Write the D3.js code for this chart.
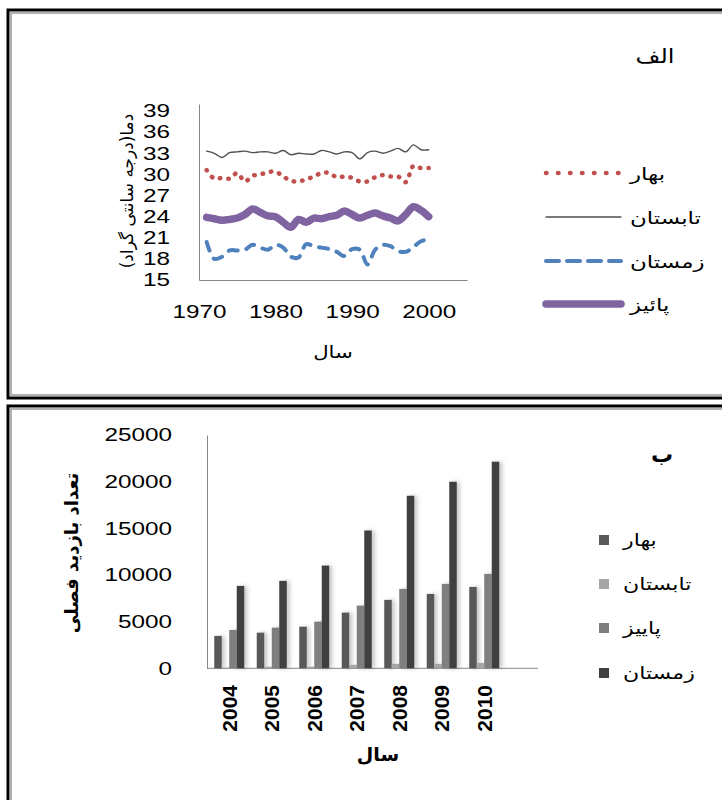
<!DOCTYPE html>
<html>
<head>
<meta charset="utf-8">
<script src="https://cdnjs.cloudflare.com/ajax/libs/d3/7.8.5/d3.min.js"></script>
<style>
    body { margin: 0; background: #fff; }
    svg text { fill: #000; }
    .num { font-family: "Liberation Sans", Arial, sans-serif; }
    .fa { font-family: "DejaVu Sans", sans-serif; }
</style>
</head>
<body>
<div id="chart"></div>
<script>

// ---- panel (الف): seasonal temperature ----
const climateYears = [1971, 1972, 1973, 1974, 1975, 1976, 1977, 1978, 1979, 1980,
    1981, 1982, 1983, 1984, 1985, 1986, 1987, 1988, 1989, 1990,
    1991, 1992, 1993, 1994, 1995, 1996, 1997, 1998, 1999, 2000];
const springTemp = [30.6, 29.4, 29.5, 29.4, 30.2, 29.0, 29.8, 30.0, 30.3, 30.4,
    29.7, 29.1, 29.0, 29.3, 29.7, 30.2, 30.2, 29.6, 29.7, 29.5,
    29.0, 29.0, 29.6, 29.9, 29.7, 29.7, 28.9, 31.2, 30.9, 30.9];
const summerTemp = [33.3, 33.0, 32.4, 33.1, 33.2, 33.3, 33.1, 33.2, 33.2, 33.0,
    33.4, 32.8, 33.0, 32.9, 32.9, 33.4, 33.2, 32.9, 33.2, 33.1,
    32.2, 33.1, 33.3, 33.0, 33.3, 33.7, 33.2, 34.2, 33.5, 33.5];
const winterTemp = [20.4, 18.0, 18.3, 19.2, 19.2, 19.3, 20.0, 19.6, 19.3, 20.0,
    19.6, 18.3, 18.2, 20.1, 19.8, 19.6, 19.4, 19.0, 18.4, 19.4,
    19.3, 17.2, 19.3, 20.0, 19.8, 19.1, 19.0, 19.7, 20.5, 20.8];
const autumnTemp = [23.9, 23.7, 23.5, 23.6, 23.8, 24.3, 25.1, 24.6, 24.1, 24.0,
    23.2, 22.5, 23.6, 23.2, 23.8, 23.7, 24.0, 24.2, 24.8, 24.3,
    23.8, 24.2, 24.5, 24.1, 23.8, 23.4, 24.3, 25.4, 24.9, 24.0];
const tempSeasons = ["بهار", "تابستان", "زمستان", "پائیز"];
const tempTicks = [15, 18, 21, 24, 27, 30, 33, 36, 39];
const decadeTicks = [1970, 1980, 1990, 2000];

// ---- panel (ب): seasonal visits ----
const visitYears = ["2004", "2005", "2006", "2007", "2008", "2009", "2010"];
const visitSeasons = ["بهار", "تابستان", "پاییز", "زمستان"];
const springVisits = [3470, 3820, 4460, 5970, 7330, 7970, 8720];
const summerVisits = [60, 170, 170, 350, 460, 460, 570];
const autumnVisits = [4110, 4360, 5000, 6720, 8510, 9050, 10120];
const winterVisits = [8830, 9370, 11010, 14770, 18490, 19990, 22140];
const visitTicks = [0, 5000, 10000, 15000, 20000, 25000];


// horizontal text in the source is drawn wide, so stretch it along x
function stretchText(sel, k) {
    sel.each(function() {
        let t = d3.select(this);
        let x = +t.attr("x") || 0;
        t.attr("x", x / k)
            .attr("transform", (t.attr("transform") || "") + " scale(" + k + ",1)");
    });
}

const svg = d3.select("#chart").append("svg")
    .attr("width", 722)
    .attr("height", 800);

// frames round both panels
function frame(y, h) {
    svg.append("rect").attr("x", 8).attr("y", y).attr("width", 730).attr("height", h)
        .attr("fill", "none").attr("stroke", "#000").attr("stroke-width", 3);
    svg.append("rect").attr("x", 11).attr("y", y + 3).attr("width", 730).attr("height", h - 6)
        .attr("fill", "none").attr("stroke", "#999").attr("stroke-width", 1.5);
}
frame(10, 388);
frame(406, 420);


class TempLineVis {

    constructor(svg) {
        this.svg = svg;
        this.initVis();
    }

    initVis() {
        let vis = this;

        vis.x = d3.scaleLinear().domain([1970, 2005]).range([199, 467]);
        vis.y = d3.scaleLinear().domain([15, 40]).range([280, 104]);

        vis.yAxis = d3.axisLeft(vis.y).tickValues(tempTicks).tickSize(0).tickSizeOuter(0).tickPadding(29);
        vis.xAxis = d3.axisBottom(vis.x).tickValues(decadeTicks).tickFormat(d3.format("d"))
            .tickSize(0).tickSizeOuter(0).tickPadding(25);

        let gy = vis.svg.append("g").attr("transform", "translate(199,0)").call(vis.yAxis);
        let gx = vis.svg.append("g").attr("transform", "translate(0,280)").call(vis.xAxis);

        [gx, gy].forEach(g => {
            g.select(".domain").attr("stroke", "#868686");
            g.selectAll("text").attr("class", "num").attr("font-size", 18).attr("font-family", null);
            stretchText(g.selectAll("text"), 1.35);
        });

        vis.svg.append("text").attr("class", "fa")
            .attr("transform", "translate(133,191)rotate(-90)")
            .attr("text-anchor", "middle")
            .attr("direction", "rtl")
            .attr("font-size", 17)
            .text("دما(درجه سانتی گراد)");

        let t1 = vis.svg.append("text").attr("class", "fa")
            .attr("x", 333).attr("y", 358)
            .attr("text-anchor", "middle")
            .attr("font-size", 17)
            .text("سال");
        stretchText(t1, 1.25);

        let t2 = vis.svg.append("text").attr("class", "fa")
            .attr("x", 655).attr("y", 63)
            .attr("text-anchor", "middle")
            .attr("font-size", 20)
            .text("الف");
        stretchText(t2, 1.2);

        vis.wrangleData();
    }

    wrangleData() {
        let vis = this;
        let cols = [springTemp, summerTemp, winterTemp, autumnTemp];
        let styles = [
            { color: "#C0504D", width: 4.5, dash: "0.5,8", legendDash: "0.5,11.5" },
            { color: "#505050", width: 1.4, dash: null, legendDash: null },
            { color: "#4F81BD", width: 4, dash: "9,9", legendDash: "13,8" },
            { color: "#8064A2", width: 7.5, dash: null, legendDash: null }
        ];
        vis.displayData = tempSeasons.map((name, i) => ({
            name: name,
            style: styles[i],
            values: climateYears.map((yr, j) => ({ year: yr, value: cols[i][j] }))
        }));
        vis.updateVis();
    }

    updateVis() {
        let vis = this;

        let line = d3.line()
            .x(d => vis.x(d.year))
            .y(d => vis.y(d.value))
            .curve(d3.curveCatmullRom.alpha(0.5));

        // draw autumn/winter first so summer + spring sit on top
        vis.svg.selectAll(".season-line")
            .data(vis.displayData.slice().reverse())
            .enter()
            .append("path")
            .attr("class", "season-line")
            .attr("d", d => line(d.values))
            .attr("fill", "none")
            .attr("stroke", d => d.style.color)
            .attr("stroke-width", d => d.style.width)
            .attr("stroke-dasharray", d => d.style.dash)
            .attr("stroke-linecap", "round")
            .attr("stroke-linejoin", "round");

        let legendY = [173, 217, 261, 304];
        let leg = vis.svg.selectAll(".legend")
            .data(vis.displayData)
            .enter()
            .append("g")
            .attr("class", "legend")
            .attr("transform", (d, i) => "translate(0," + legendY[i] + ")");

        leg.append("line")
            .attr("x1", 546).attr("x2", 621)
            .attr("stroke", d => d.style.color)
            .attr("stroke-width", d => d.style.width)
            .attr("stroke-dasharray", d => d.style.legendDash)
            .attr("stroke-linecap", "round");

        let lt = leg.append("text").attr("class", "fa")
            .attr("x", 630).attr("y", 7)
            .attr("font-size", 17)
            .text(d => d.name);
        stretchText(lt, 1.35);
    }
}


class VisitBarVis {

    constructor(svg) {
        this.svg = svg;
        this.initVis();
    }

    initVis() {
        let vis = this;

        vis.x = d3.scaleBand().domain(visitYears).range([208, 505.5])
            .paddingInner(12.5 / 42.5).paddingOuter(6.25 / 42.5);
        vis.xSub = d3.scaleBand().domain(visitSeasons).range([0, vis.x.bandwidth()]);
        vis.y = d3.scaleLinear().domain([0, 25000]).range([668.3, 435]);

        let defs = vis.svg.append("defs");
        let f = defs.append("filter").attr("id", "barShadow")
            .attr("x", "-50%").attr("y", "-5%").attr("width", "250%").attr("height", "110%");
        f.append("feDropShadow").attr("dx", 3).attr("dy", 0).attr("stdDeviation", 2)
            .attr("flood-color", "#000").attr("flood-opacity", 0.22);

        vis.yAxis = d3.axisLeft(vis.y).tickValues(visitTicks).tickFormat(d3.format("d"))
            .tickSize(0).tickSizeOuter(0).tickPadding(35);
        let gy = vis.svg.append("g").attr("transform", "translate(207,0)").call(vis.yAxis);
        gy.select(".domain").attr("stroke", "#868686");
        gy.selectAll("text").attr("class", "num").attr("font-size", 18).attr("font-family", null);
        stretchText(gy.selectAll("text"), 1.35);

        vis.svg.append("line")
            .attr("x1", 207).attr("x2", 538)
            .attr("y1", vis.y(0)).attr("y2", vis.y(0))
            .attr("stroke", "#868686");

        vis.svg.selectAll(".year-label")
            .data(visitYears)
            .enter()
            .append("text")
            .attr("class", "year-label num")
            .attr("transform", d => "translate(" + (vis.x(d) + vis.x.bandwidth() / 2) + ",685)rotate(-90)")
            .attr("text-anchor", "end")
            .attr("dy", "0.36em")
            .attr("font-size", 21)
            .attr("font-weight", "bold")
            .text(d => d);

        vis.svg.append("text").attr("class", "fa")
            .attr("transform", "translate(78,553)rotate(-90)")
            .attr("text-anchor", "middle")
            .attr("direction", "rtl")
            .attr("font-size", 18)
            .attr("font-weight", "bold")
            .text("تعداد بازدید فصلی");

        vis.svg.append("text").attr("class", "fa")
            .attr("x", 378).attr("y", 761)
            .attr("text-anchor", "middle")
            .attr("font-size", 19)
            .attr("font-weight", "bold")
            .text("سال");

        vis.svg.append("text").attr("class", "fa")
            .attr("x", 662).attr("y", 462)
            .attr("text-anchor", "middle")
            .attr("font-size", 22)
            .attr("font-weight", "bold")
            .text("ب");

        vis.wrangleData();
    }

    wrangleData() {
        let vis = this;
        let cols = [springVisits, summerVisits, autumnVisits, winterVisits];
        vis.colors = ["#595959", "#a6a6a6", "#7f7f7f", "#414141"];
        vis.displayData = visitYears.map((yr, j) => ({
            year: yr,
            bars: visitSeasons.map((s, i) => ({ season: s, value: cols[i][j], color: vis.colors[i] }))
        }));
        vis.updateVis();
    }

    updateVis() {
        let vis = this;

        let groups = vis.svg.selectAll(".year-group")
            .data(vis.displayData)
            .enter()
            .append("g")
            .attr("class", "year-group")
            .attr("transform", d => "translate(" + vis.x(d.year) + ",0)");

        groups.selectAll("rect")
            .data(d => d.bars)
            .enter()
            .append("rect")
            .attr("x", d => vis.xSub(d.season))
            .attr("width", vis.xSub.bandwidth())
            .attr("y", d => vis.y(d.value))
            .attr("height", d => vis.y(0) - vis.y(d.value))
            .attr("fill", d => d.color)
            .attr("filter", "url(#barShadow)");

        let legendY = [540, 584, 628, 673];
        let leg = vis.svg.selectAll(".bar-legend")
            .data(visitSeasons)
            .enter()
            .append("g")
            .attr("class", "bar-legend")
            .attr("transform", (d, i) => "translate(0," + legendY[i] + ")");

        leg.append("rect")
            .attr("x", 599).attr("y", -5)
            .attr("width", 10).attr("height", 10)
            .attr("fill", (d, i) => vis.colors[i]);

        let lt = leg.append("text").attr("class", "fa")
            .attr("x", 623).attr("y", 6)
            .attr("font-size", 17)
            .text(d => d);
        stretchText(lt, 1.3);
    }
}

new TempLineVis(svg.append("g"));
new VisitBarVis(svg.append("g"));

</script>
</body>
</html>
